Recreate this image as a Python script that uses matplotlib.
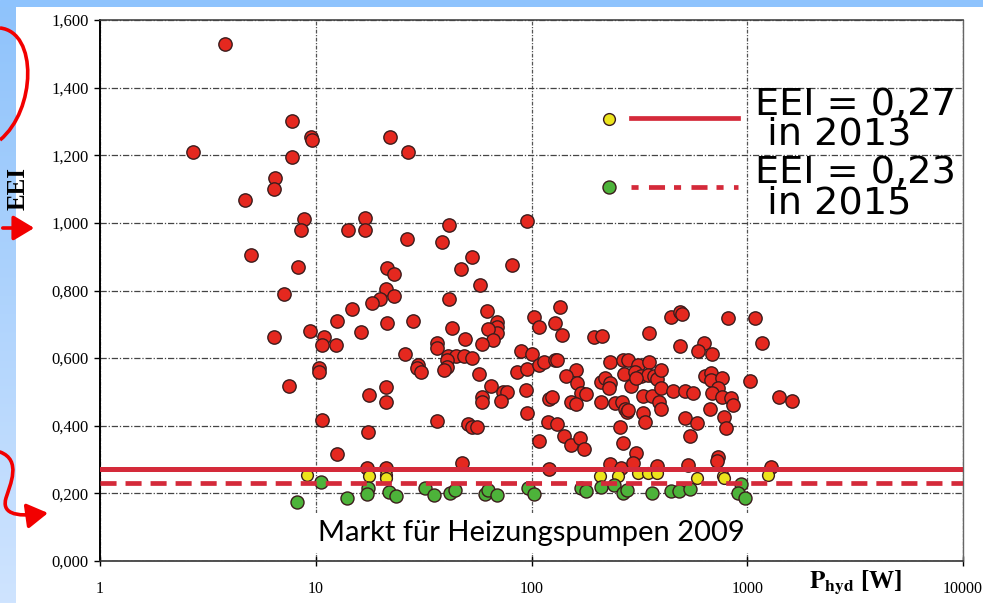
import matplotlib
matplotlib.use("Agg")
import matplotlib.pyplot as plt
import numpy as np
from matplotlib.path import Path
from matplotlib.patches import FancyArrowPatch, PathPatch
from matplotlib.ticker import FixedLocator, FuncFormatter, NullLocator
from matplotlib.colors import LinearSegmentedColormap

# ---- data (P_hyd in W, EEI) ----
red_p = [3.8, 2.7, 7.8, 9.5, 9.6, 7.8, 6.5, 6.4, 4.7, 8.8, 8.5, 5.0, 8.3, 7.1, 6.4, 9.4, 7.5,
         10.9, 10.7, 10.4, 10.4, 10.7, 22.2, 26.7, 16.9, 14.1, 16.9, 26.4, 41.3, 38.3, 53, 47,
         21.5, 23, 21.1, 23, 19.8, 18.2, 41.3, 14.8, 12.6, 21.3, 28.1, 16.2, 12.4, 43, 49,
         36.3, 36.3, 25.8, 40.9, 44.5, 48.4, 52.8, 29.7, 29.4, 30.6, 40.5, 40.5, 39.5, 17.6,
         21.1, 21.1, 36.3, 51, 53, 56, 17.4, 12.6, 47.4, 17.2, 21.1,
         95, 81, 57.5, 62, 69, 69, 69, 63, 66, 59, 89, 57, 86, 95, 73.5, 76.8, 58.7, 58.7, 72,
         94, 65, 95,
         136, 103, 108, 128, 139, 194, 213, 101, 108, 114, 128, 131, 232, 266, 160, 144, 162,
         170, 178, 211, 220, 232, 228, 269, 290, 281, 313, 352, 303, 323, 348, 371, 383, 400,
         327, 363, 400, 454, 517, 563, 640, 680, 680, 760, 735, 690, 760, 840, 860, 120, 124,
         119, 131, 108, 141, 153, 167, 176, 258, 266, 306, 121, 232, 261, 297, 211, 245, 264,
         272, 278, 153, 160, 445, 490, 500, 810, 352, 490, 630, 590, 690, 327, 337, 517, 587,
         545, 670, 780, 800, 380, 533, 735, 725, 281, 390, 400, 306,
         1090, 1170, 1030, 1410, 1620, 1290]
red_eei = [1.53, 1.21, 1.30, 1.255, 1.245, 1.195, 1.133, 1.10, 1.068, 1.01, 0.98, 0.905, 0.87,
           0.79, 0.663, 0.68, 0.518,
           0.663, 0.64, 0.571, 0.56, 0.417, 1.254, 1.21, 1.015, 0.98, 0.98, 0.953, 0.994, 0.944,
           0.90, 0.864, 0.867, 0.85, 0.805, 0.784, 0.775, 0.763, 0.775, 0.746, 0.71, 0.704, 0.71,
           0.677, 0.639, 0.689, 0.657, 0.645, 0.63, 0.612, 0.607, 0.607, 0.607, 0.60, 0.58,
           0.571, 0.559, 0.595, 0.574, 0.565, 0.491, 0.515, 0.47, 0.414, 0.405, 0.396, 0.396,
           0.382, 0.317, 0.29, 0.275, 0.275,
           1.006, 0.876, 0.817, 0.74, 0.707, 0.692, 0.675, 0.686, 0.654, 0.642, 0.621, 0.553,
           0.559, 0.568, 0.5, 0.5, 0.485, 0.47, 0.473, 0.506, 0.518, 0.438,
           0.751, 0.722, 0.692, 0.704, 0.669, 0.663, 0.666, 0.612, 0.58, 0.59, 0.595, 0.595,
           0.589, 0.595, 0.565, 0.547, 0.527, 0.497, 0.494, 0.53, 0.541, 0.527, 0.512, 0.553,
           0.518, 0.595, 0.58, 0.589, 0.559, 0.547, 0.55, 0.547, 0.538, 0.565, 0.488, 0.488,
           0.512, 0.503, 0.503, 0.497, 0.547, 0.556, 0.536, 0.541, 0.512, 0.497, 0.485, 0.482,
           0.462, 0.479, 0.485, 0.411, 0.405, 0.355, 0.37, 0.343, 0.364, 0.331, 0.396, 0.349,
           0.32, 0.272, 0.287, 0.275, 0.29, 0.47, 0.467, 0.47, 0.45, 0.441, 0.47, 0.465, 0.722,
           0.737, 0.73, 0.719, 0.675, 0.636, 0.645, 0.621, 0.612, 0.438, 0.411, 0.423, 0.408,
           0.37, 0.45, 0.426, 0.393, 0.281, 0.284, 0.308, 0.296, 0.447, 0.47, 0.45, 0.541,
           0.719, 0.645, 0.533, 0.485, 0.473, 0.278]

yellow_p = [9.1, 17.6, 21.1, 21.1, 207, 253, 313, 345, 380, 587, 768, 780, 1250]
yellow_eei = [0.255, 0.25, 0.254, 0.246, 0.251, 0.251, 0.26, 0.26, 0.26, 0.246, 0.251, 0.246, 0.254]

green_p = [10.6, 8.2, 17.4, 17.2, 13.9, 21.8, 23.5, 32, 35.5, 41.7, 44, 60.6, 63, 69, 96, 103,
           169, 178, 211, 240, 266, 276, 360, 445, 484, 545, 940, 910, 980]
green_eei = [0.234, 0.175, 0.216, 0.198, 0.186, 0.204, 0.192, 0.216, 0.195, 0.201, 0.21, 0.198,
             0.21, 0.195, 0.216, 0.198, 0.216, 0.207, 0.219, 0.225, 0.2, 0.21, 0.2, 0.207, 0.207,
             0.213, 0.228, 0.201, 0.186]

limit_2013 = 0.272
limit_2015 = 0.231
legend_texts = ["EEI = 0,27\n in 2013", "EEI = 0,23\n in 2015"]
x_ticks = [1, 10, 100, 1000, 10000]
y_ticks = [0.0, 0.2, 0.4, 0.6, 0.8, 1.0, 1.2, 1.4, 1.6]

RED = "#e5281f"
YEL = "#ece41c"
GRN = "#4db33a"
LINE = "#d42a3a"
EDGE = "#3b1c1c"

plt.rcParams["mathtext.fontset"] = "stix"

W, H = 983, 603
fig = plt.figure(figsize=(W / 100, H / 100), dpi=100, facecolor="white")

# slide background strips
top = fig.add_axes([0, 1 - 7 / H, 1, 7 / H])
top.axis("off")
top.add_patch(plt.Rectangle((0, 0), 1, 1, color="#8ec3fd", transform=top.transAxes))
side = fig.add_axes([0, 0, 16 / W, 1 - 7 / H])
grad = np.linspace(0, 1, 256).reshape(-1, 1)
cm = LinearSegmentedColormap.from_list("bg", ["#cfe4ff", "#8fc3fb"])
side.imshow(grad, aspect="auto", cmap=cm, origin="lower", extent=[0, 1, 0, 1])
side.axis("off")

ax = fig.add_axes([100 / W, 42 / H, 863 / W, 541 / H])
ax.set_xscale("log")
ax.set_xlim(1, 10000)
ax.set_ylim(0, 1.6)

ax.grid(True, which="major", axis="y", color="#444444", linestyle=(0, (5, 1.5, 1, 1.5)), linewidth=0.9)
ax.grid(True, which="major", axis="x", color="#555555", linestyle=(0, (3, 1.2, 1, 1.2)), linewidth=0.9)

ax.scatter(red_p, red_eei, s=92, c=RED, edgecolors=EDGE, linewidths=1.0, zorder=3)
ax.scatter(yellow_p, yellow_eei, s=72, c=YEL, edgecolors=EDGE, linewidths=1.0, zorder=3)
ax.scatter(green_p, green_eei, s=88, c=GRN, edgecolors=EDGE, linewidths=1.0, zorder=3)

ax.axhline(limit_2013, color=LINE, linewidth=3.6, zorder=4)
ax.axhline(limit_2015, color=LINE, linewidth=3.4, dashes=(3.4, 1.9), zorder=4)

# legend block
ax.scatter([0.590], [0.817], s=72, c=YEL, edgecolors=EDGE, linewidths=1.0, transform=ax.transAxes, zorder=5, clip_on=False)
ax.scatter([0.590], [0.691], s=88, c=GRN, edgecolors=EDGE, linewidths=1.0, transform=ax.transAxes, zorder=5, clip_on=False)
ax.plot([0.615, 0.739], [0.819, 0.819], color=LINE, linewidth=3.4, transform=ax.transAxes, zorder=5)
ax.plot([0.615, 0.739], [0.691, 0.691], color=LINE, linewidth=3.4, dashes=(1.5, 2.2, 3.4, 1.9),
        transform=ax.transAxes, zorder=5)
for txt, yy in zip(legend_texts, [0.877, 0.750]):
    ax.text(0.759, yy, txt, transform=ax.transAxes, fontsize=27.5, family="DejaVu Sans",
            va="top", ha="left", linespacing=0.8, zorder=6)

ax.text(0.4995, 0.052, "Markt für Heizungspumpen 2009", transform=ax.transAxes,
        fontsize=21, family="Lato", ha="center", va="center", zorder=6,
        bbox=dict(facecolor="white", edgecolor="none", pad=5))

# axes styling
ax.xaxis.set_major_locator(FixedLocator(x_ticks))
ax.xaxis.set_minor_locator(NullLocator())
ax.xaxis.set_major_formatter(FuncFormatter(lambda v, p: "%d" % round(v)))
ax.yaxis.set_major_locator(FixedLocator(y_ticks))
ax.yaxis.set_major_formatter(FuncFormatter(lambda v, p: ("%.3f" % v).replace(".", ",")))
ax.tick_params(axis="y", direction="out", length=4, width=1, pad=4, labelsize=12)
ax.tick_params(axis="x", direction="inout", length=7, width=1, pad=11, labelsize=11.5)
for lab in ax.get_xticklabels() + ax.get_yticklabels():
    lab.set_family("Liberation Serif")

ax.spines["left"].set_color("black")
ax.spines["left"].set_linewidth(1.4)
ax.spines["bottom"].set_color("#333333")
ax.spines["bottom"].set_linewidth(1.2)
ax.spines["top"].set_color("#444444")
ax.spines["top"].set_linewidth(1.2)
ax.spines["right"].set_color("#666666")
ax.spines["right"].set_linewidth(1.0)

ax.set_ylabel("EEI", fontsize=18, fontweight="bold", family="Liberation Serif")
ax.yaxis.set_label_coords(-0.081, 0.689)
ax.text(0.875, -0.041, r"$\mathbf{P_{hyd}}$ [W]", transform=ax.transAxes, fontsize=18,
        fontweight="bold", family="Liberation Serif", ha="center", va="center")

# red hand-drawn arrows on the slide margin
def fp(x, y):
    return (x / W, 1 - y / H)

curve1 = Path([fp(0, 28), fp(38, 32), fp(36, 110), fp(0, 140)],
              [Path.MOVETO, Path.CURVE4, Path.CURVE4, Path.CURVE4])
fig.add_artist(PathPatch(curve1, transform=fig.transFigure, facecolor="none",
                         edgecolor="#f20000", linewidth=2.6))
fig.add_artist(FancyArrowPatch(fp(0, 228), fp(37, 228), transform=fig.transFigure,
                               arrowstyle="-|>,head_length=0.45,head_width=0.27",
                               mutation_scale=28, color="#f20000", linewidth=2.6))
curve2 = Path([fp(0, 452), fp(22, 460), fp(10, 485), fp(6, 498),
               fp(2, 512), fp(12, 518), fp(48, 513)],
              [Path.MOVETO, Path.CURVE4, Path.CURVE4, Path.CURVE4,
               Path.CURVE4, Path.CURVE4, Path.CURVE4])
fig.add_artist(FancyArrowPatch(path=curve2, transform=fig.transFigure,
                               arrowstyle="-|>,head_length=0.45,head_width=0.27",
                               mutation_scale=28, color="#f20000", linewidth=2.6))

fig.savefig("out.png", dpi=100, facecolor=fig.get_facecolor())
